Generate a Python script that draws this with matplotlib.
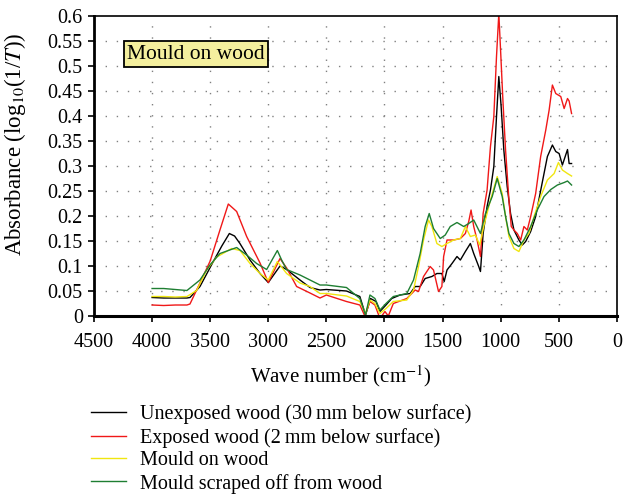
import matplotlib
matplotlib.use("Agg")
import matplotlib.pyplot as plt
from matplotlib.ticker import FuncFormatter

plt.rcParams["font.family"] = ["Liberation Serif", "DejaVu Serif"]
plt.rcParams["mathtext.fontset"] = "stix"

# series: unexposed wood (30 mm below surface)
unexp_wn = [4000, 3900, 3800, 3700, 3674, 3588, 3473, 3400, 3335, 3290, 3244, 3157, 3071,
            3000, 2899, 2842, 2727, 2641, 2555, 2500, 2327, 2212, 2163, 2120, 2073, 2039,
            1987, 1938, 1866, 1779, 1736, 1693, 1650, 1592, 1549, 1506, 1486, 1462, 1419,
            1376, 1347, 1304, 1261, 1232, 1189, 1174, 1151, 1117, 1088, 1059, 1036, 1016,
            996, 973, 944, 915, 886, 843, 814, 785, 742, 699, 661, 627, 598, 555, 526, 497,
            469, 425, 411, 390]
unexp_abs = [0.037, 0.036, 0.036, 0.036, 0.037, 0.059, 0.109, 0.140, 0.165, 0.160, 0.145,
             0.112, 0.085, 0.067, 0.100, 0.093, 0.072, 0.057, 0.052, 0.053, 0.050, 0.039,
             0.002, 0.035, 0.029, 0.009, 0.022, 0.035, 0.042, 0.045, 0.059, 0.059, 0.075,
             0.079, 0.085, 0.085, 0.069, 0.092, 0.105, 0.119, 0.112, 0.129, 0.145, 0.125,
             0.099, 0.089, 0.165, 0.219, 0.252, 0.299, 0.399, 0.479, 0.419, 0.332, 0.259,
             0.205, 0.172, 0.152, 0.142, 0.149, 0.169, 0.199, 0.245, 0.285, 0.319, 0.342,
             0.329, 0.325, 0.302, 0.333, 0.305, 0.305]

# series: exposed wood (2 mm below surface)
exp_wn = [4000, 3900, 3800, 3700, 3674, 3588, 3500, 3416, 3344, 3272, 3186, 3071, 3000,
          2899, 2842, 2756, 2641, 2555, 2500, 2327, 2212, 2169, 2125, 2082, 2039, 1996,
          1967, 1924, 1808, 1736, 1707, 1664, 1607, 1578, 1535, 1506, 1491, 1462, 1405,
          1347, 1304, 1275, 1255, 1232, 1203, 1174, 1151, 1117, 1088, 1059, 1036, 1016,
          1001, 981, 958, 929, 909, 886, 857, 828, 800, 771, 742, 699, 656, 612, 583, 555,
          526, 483, 454, 425, 411, 390]
exp_abs = [0.022, 0.021, 0.022, 0.022, 0.024, 0.066, 0.110, 0.172, 0.224, 0.209, 0.159,
           0.106, 0.067, 0.115, 0.096, 0.059, 0.046, 0.036, 0.042, 0.029, 0.022, 0.000,
           0.029, 0.022, -0.005, 0.009, 0.000, 0.025, 0.035, 0.052, 0.049, 0.079, 0.099,
           0.092, 0.049, 0.059, 0.119, 0.152, 0.152, 0.155, 0.165, 0.189, 0.212, 0.179,
           0.152, 0.119, 0.205, 0.252, 0.339, 0.399, 0.519, 0.605, 0.532, 0.432, 0.332,
           0.232, 0.179, 0.172, 0.165, 0.152, 0.179, 0.172, 0.199, 0.245, 0.319, 0.372,
           0.412, 0.462, 0.445, 0.439, 0.415, 0.435, 0.430, 0.405]

# series: mould on wood
mould_wn = [4000, 3900, 3800, 3700, 3617, 3530, 3444, 3315, 3243, 3157, 3071, 3000, 2922,
            2842, 2727, 2641, 2555, 2500, 2327, 2212, 2163, 2125, 2082, 2039, 1987, 1924,
            1808, 1750, 1707, 1664, 1621, 1592, 1549, 1506, 1462, 1405, 1347, 1304, 1261,
            1218, 1180, 1146, 1088, 1030, 987, 958, 929, 886, 843, 800, 757, 713, 656, 598,
            540, 503, 469, 425, 390]
mould_abs = [0.039, 0.039, 0.038, 0.039, 0.051, 0.092, 0.118, 0.135, 0.131, 0.105, 0.085,
             0.072, 0.109, 0.085, 0.066, 0.059, 0.045, 0.045, 0.040, 0.029, 0.005, 0.032,
             0.025, 0.005, 0.015, 0.029, 0.032, 0.052, 0.099, 0.152, 0.192, 0.179, 0.145,
             0.139, 0.145, 0.152, 0.155, 0.179, 0.159, 0.162, 0.142, 0.179, 0.232, 0.279,
             0.245, 0.199, 0.159, 0.135, 0.129, 0.152, 0.165, 0.199, 0.239, 0.272, 0.285,
             0.307, 0.292, 0.285, 0.280]

# series: mould scraped off from wood
scraped_wn = [4000, 3900, 3800, 3700, 3588, 3502, 3416, 3272, 3186, 3100, 3014, 2922, 2885,
              2842, 2727, 2641, 2555, 2500, 2327, 2212, 2163, 2125, 2082, 2039, 1987, 1924,
              1808, 1750, 1693, 1650, 1615, 1578, 1520, 1477, 1434, 1376, 1318, 1275, 1232,
              1174, 1131, 1073, 1030, 987, 958, 929, 886, 843, 800, 742, 685, 627, 569, 512,
              454, 425, 390]
scraped_abs = [0.055, 0.055, 0.053, 0.051, 0.072, 0.102, 0.125, 0.137, 0.122, 0.105, 0.093,
               0.131, 0.112, 0.093, 0.082, 0.072, 0.062, 0.062, 0.057, 0.035, 0.002, 0.042,
               0.035, 0.012, 0.025, 0.039, 0.045, 0.072, 0.125, 0.179, 0.205, 0.175, 0.155,
               0.162, 0.179, 0.187, 0.179, 0.185, 0.192, 0.165, 0.205, 0.239, 0.275, 0.239,
               0.199, 0.165, 0.145, 0.139, 0.152, 0.179, 0.212, 0.239, 0.253, 0.262, 0.267,
               0.270, 0.262]

labels = ["Unexposed wood (30\u2009mm below surface)",
          "Exposed wood (2\u2009mm below surface)",
          "Mould on wood",
          "Mould scraped off from wood"]
colors = ["#000000", "#F01818", "#F0E610", "#1E7E32"]

fig = plt.figure(figsize=(6.24, 4.95), dpi=100)
ax = fig.add_axes([0.1506, 0.3616, 0.838, 0.606])

series = [(unexp_wn, unexp_abs), (exp_wn, exp_abs), (mould_wn, mould_abs), (scraped_wn, scraped_abs)]
for (wn, ab), lab, c in zip(series, labels, colors):
    ax.plot(wn, ab, color=c, lw=1.0, label=lab)

ax.set_xlim(4500, 0)
ax.set_ylim(0, 0.6)
ax.set_xticks(range(4500, -1, -500))
ax.set_yticks([i * 0.05 for i in range(13)])
ax.yaxis.set_major_formatter(FuncFormatter(lambda v, p: "0" if abs(v) < 1e-9 else f"{v:g}"))

for v in range(4000, 0, -500):
    ax.axvline(v, color="#808080", lw=1.0, ls=(0, (1, 7)), zorder=0)
for i in range(1, 12):
    ax.axhline(i * 0.05, color="#808080", lw=1.0, ls=(0, (1, 7)), zorder=0)

ax.spines["left"].set_linewidth(2.0)
ax.spines["bottom"].set_linewidth(2.2)
ax.spines["top"].set_linewidth(1.2)
ax.spines["right"].set_linewidth(1.2)
ax.tick_params(axis="both", direction="out", length=4, width=1.2, labelsize=14.5)
ax.tick_params(axis="x", pad=8)
ax.tick_params(axis="y", pad=4)

ax.set_xlabel("Wave number (cm$^{-1}$)", fontsize=15)
ax.xaxis.set_label_coords(0.472, -0.158)
ax.set_ylabel("Absorbance (log$_{10}$(1/$T$))", fontsize=16.5)
ax.yaxis.set_label_coords(-0.126, 0.573)

ax.text(3622, 0.524, "Mould on wood", fontsize=15.5, ha="center", va="center",
        bbox=dict(boxstyle="square,pad=0.17", facecolor="#F4EF9E", edgecolor="black", lw=1.3))

fig.legend(loc="upper left", bbox_to_anchor=(0.146, 0.183), frameon=False, fontsize=14.5,
           handlelength=1.75, handletextpad=0.7, labelspacing=0.17, borderpad=0, borderaxespad=0)

fig.savefig("out.png", dpi=100)
